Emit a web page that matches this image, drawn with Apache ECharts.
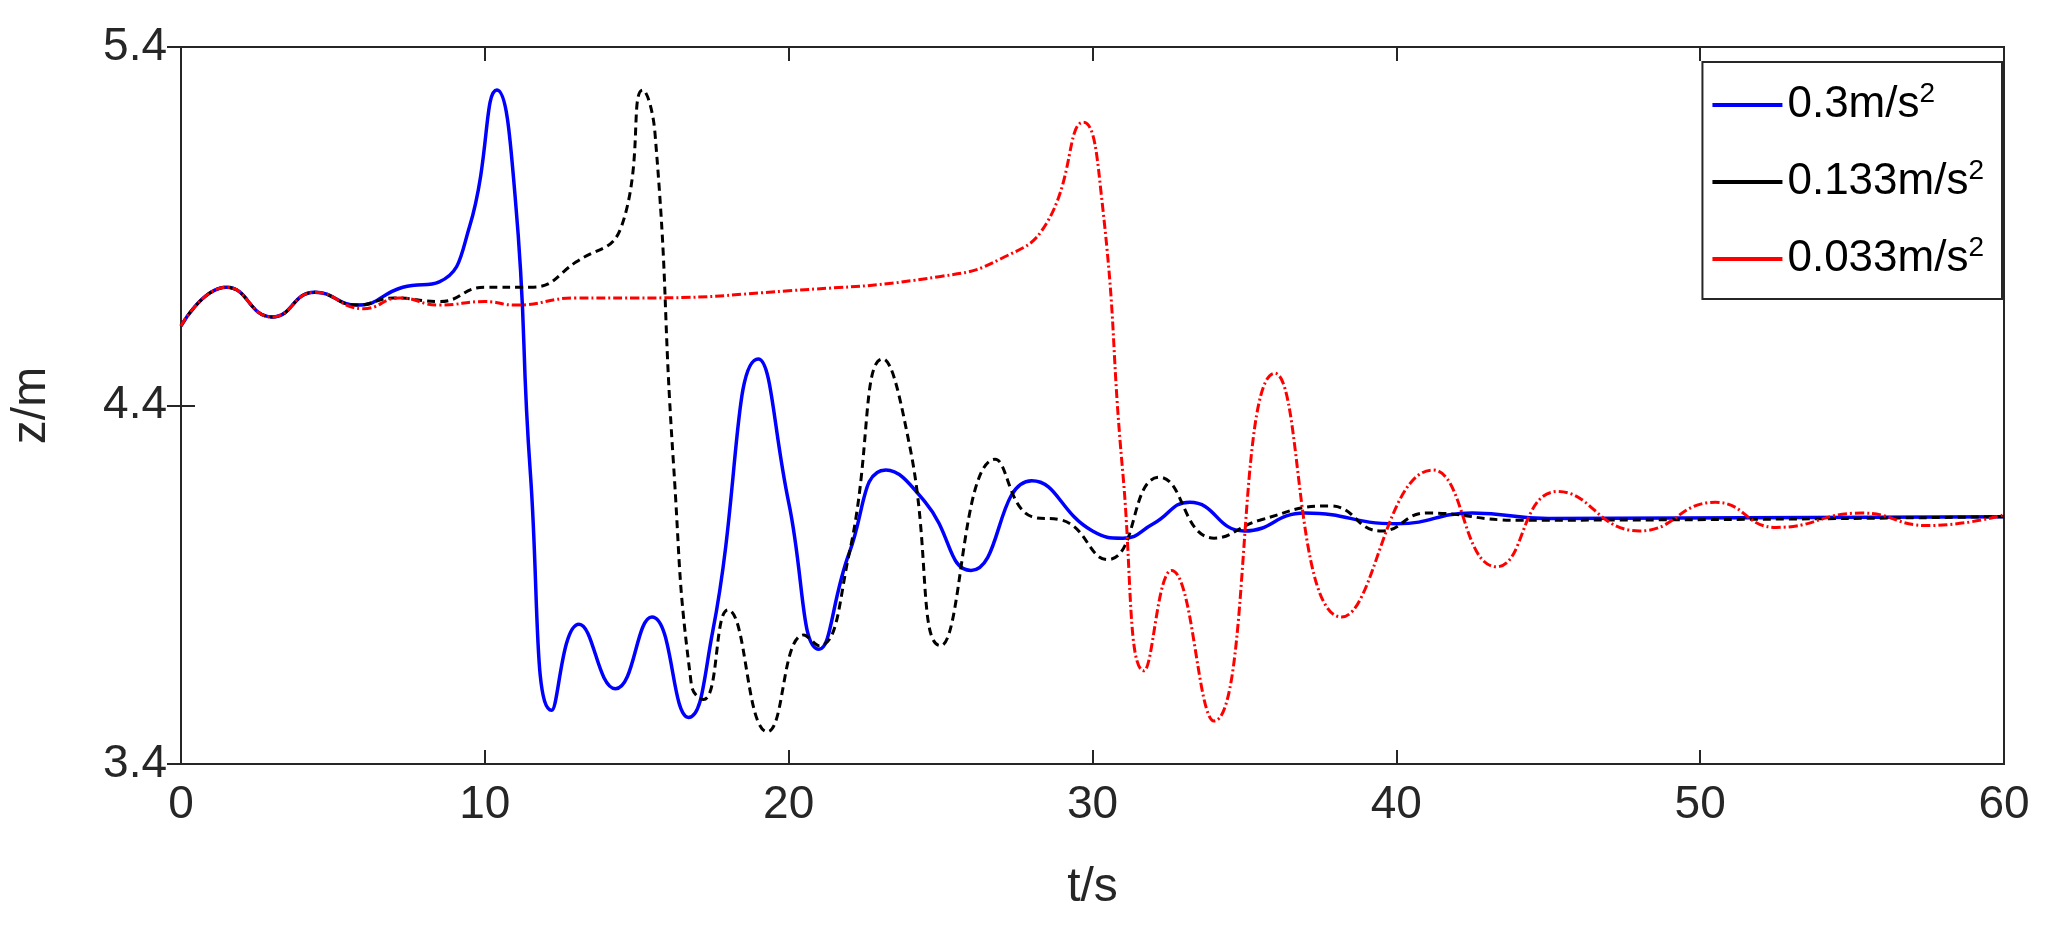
<!DOCTYPE html>
<html>
<head>
<meta charset="utf-8">
<script src="https://cdn.jsdelivr.net/npm/echarts@6/dist/echarts.min.js"></script>
<style>html,body{margin:0;background:#fff}#chart{width:2066px;height:939px}</style>
</head>
<body>
<div id="chart"></div>
<script>
// t (s), z (m)
const common = [[0, 4.622], [1.5, 4.73], [3, 4.647], [4.4, 4.716]];
const blue = common.concat([[5.8, 4.68], [7.3, 4.73], [8.5, 4.745], [9.5, 4.9], [10.4, 5.28], [11, 4.98], [11.5, 4.21], [12.2, 3.55], [13.1, 3.79], [14.3, 3.61], [15.5, 3.81], [16.7, 3.53], [17.5, 3.77], [19, 4.53], [20, 4.13], [21, 3.72], [22, 3.99], [23.2, 4.22], [24.5, 4.13], [26, 3.94], [28, 4.19], [30, 4.05], [31, 4.03], [32, 4.07], [33.2, 4.13], [35, 4.05], [37, 4.1], [40, 4.07], [42.5, 4.1], [45, 4.085], [60, 4.09]]);
const black = common.concat([[5.8, 4.68], [7, 4.7], [8.5, 4.69], [10, 4.73], [11.5, 4.73], [13, 4.8], [14.5, 4.9], [15.2, 5.28], [15.6, 5.16], [16.2, 4.25], [16.8, 3.62], [17.2, 3.58], [18, 3.83], [19.3, 3.49], [20.5, 3.76], [21, 3.73], [22, 3.99], [23.1, 4.53], [24, 4.28], [25, 3.73], [26.8, 4.25], [28, 4.09], [29, 4.08], [30.5, 3.97], [32.2, 4.2], [34, 4.03], [35.5, 4.08], [37.8, 4.12], [39.5, 4.05], [41, 4.1], [44, 4.08], [60, 4.09]]);
const red = common.concat([[6, 4.67], [7.2, 4.7], [8.5, 4.68], [10, 4.69], [11, 4.68], [13, 4.7], [15, 4.7], [20, 4.72], [25, 4.76], [27, 4.81], [28.5, 4.91], [29.7, 5.19], [30.3, 4.98], [31, 4.21], [31.7, 3.66], [32.6, 3.94], [34, 3.52], [36, 4.49], [38.2, 3.81], [41.2, 4.22], [43.3, 3.95], [45.3, 4.16], [48, 4.05], [50.5, 4.13], [52.5, 4.06], [55.3, 4.1], [57.5, 4.065], [60, 4.095]]);
const names = ['0.3', '0.133', '0.033'];

const chart = echarts.init(document.getElementById('chart'));
const font = 'Liberation Sans, Arial, sans-serif';
const axisBase = {
  axisLine: { lineStyle: { color: '#262626', width: 2 } },
  axisTick: { inside: true, length: 14, lineStyle: { color: '#262626', width: 2 } },
  splitLine: { show: false }
};
chart.setOption({
  animation: false,
  grid: { left: 177, right: 62, top: 47, bottom: 175, show: true, borderColor: '#262626', borderWidth: 2 },
  legend: {
    right: 64, top: 62, orient: 'vertical', itemWidth: 70, itemHeight: 4, itemGap: 30, icon: 'rect',
    backgroundColor: '#fff', borderColor: '#262626', borderWidth: 2, padding: [18, 18, 18, 10],
    formatter: n => '{a|' + n + 'm/s}{s|2}',
    textStyle: { rich: { a: { fontFamily: font, fontSize: 44, color: '#000' }, s: { fontFamily: font, fontSize: 28, color: '#000', verticalAlign: 'top', padding: [0, 0, 22, 0] } } }
  },
  xAxis: [
    Object.assign({ type: 'value', min: 0, max: 60, interval: 10, name: 't/s', nameLocation: 'middle', nameGap: 100,
      nameTextStyle: { fontFamily: font, fontSize: 48, color: '#262626' },
      axisLabel: { fontFamily: font, fontSize: 46, color: '#262626', margin: 18 } }, axisBase),
    Object.assign({ type: 'value', min: 0, max: 60, interval: 10, position: 'top', axisLabel: { show: false } }, axisBase)
  ],
  yAxis: [
    Object.assign({ type: 'value', min: 3.4, max: 5.4, interval: 1, name: 'z/m', nameLocation: 'middle', nameGap: 125,
      nameTextStyle: { fontFamily: font, fontSize: 48, color: '#262626' },
      axisLabel: { fontFamily: font, fontSize: 46, color: '#262626', margin: 14, formatter: v => v.toFixed(1) } }, axisBase),
    Object.assign({ type: 'value', min: 3.4, max: 5.4, interval: 1, position: 'right', axisLabel: { show: false } }, axisBase)
  ],
  series: [
    { name: names[0], type: 'line', data: blue, smooth: 0.5, showSymbol: false, lineStyle: { color: '#0000ff', width: 3.5 }, itemStyle: { color: '#0000ff' } },
    { name: names[1], type: 'line', data: black, smooth: 0.5, showSymbol: false, lineStyle: { color: '#000', width: 3, type: [8, 5] }, itemStyle: { color: '#000' } },
    { name: names[2], type: 'line', data: red, smooth: 0.5, showSymbol: false, lineStyle: { color: '#ff0000', width: 3, type: [9, 3, 2, 3] }, itemStyle: { color: '#ff0000' } }
  ]
});
</script>
</body>
</html>
